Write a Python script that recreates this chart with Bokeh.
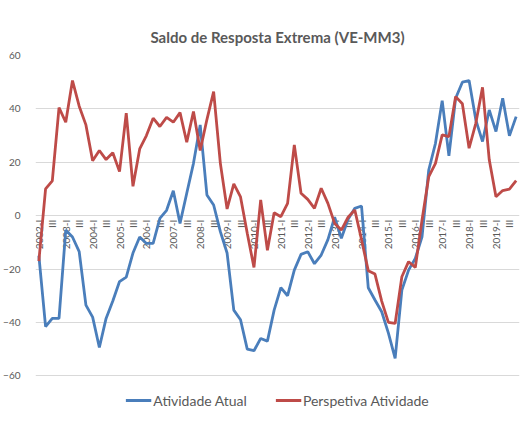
import math
from bokeh.plotting import figure
from bokeh.models import SingleIntervalTicker, Legend, LegendItem, Range1d, ColumnDataSource
from bokeh.core.properties import value
from bokeh.embed import file_html
from bokeh.resources import INLINE

# ---- data (quarterly, 2002-I .. 2019-IV) ----
atividade_atual = [
    -15, -41.6, -38.5, -38.5, -5.4, -8, -13.5, -33.5, -38, -49.4, -38.5, -32,
    -24.7, -23, -14, -8, -10.4, -10.4, -1, 2, 9.3, -2.9, 8.4, 19.6,
    34, 7.75, 4, -6, -14, -35.4, -39, -50, -50.6, -46, -47, -35.4,
    -27, -30, -20.4, -14.5, -13.5, -18, -14.75, -9, -0.6, -8.5, -1.4, 2.75,
    3.6, -27, -31.6, -36, -44, -53.5, -27.9, -20.4, -16, -7.9, 17.1, 27.1,
    43.1, 22.4, 44, 50, 50.6, 35.9, 27.75, 39.6, 31.5, 44, 29.9, 37.1,
]
perspetiva_atividade = [
    -17, 10, 13, 40.5, 35, 50.6, 41, 34, 20.6, 24.4, 21, 23.6,
    16.5, 38.4, 11, 25, 30, 36.5, 33.4, 36.8, 35, 38.6, 27.5, 39,
    24.4, 36, 46.5, 19.6, 2.5, 11.9, 7, -6.6, -19.4, 5.9, -13, 1.1,
    -0.4, 4.6, 26.5, 8.4, 6.1, 2.75, 10.25, 4.6, -2.9, -5.4, -0.6, 2.1,
    -9, -20.6, -21.9, -32, -40, -40.4, -22.9, -17.25, -19.4, -1.6, 14.6, 19.6,
    30.25, 29.6, 44.6, 41.9, 25.25, 34.6, 48.1, 20.9, 7.1, 9.4, 9.9, 13.1,
]
years = list(range(2002, 2020))
tick_labels = []
for y in years:
    tick_labels += [f"{y}-I", "III"]
y_min, y_max, y_step = -60, 60, 20

n = len(atividade_atual)
idx = list(range(n))
tick_pos = list(range(0, n, 2))

BLUE = "#4a7ebb"
RED = "#be4b48"
GRAY = "#595959"
GRID = "#d9d9d9"
FONT = "Lato"
LEGEND_ROOM = 13  # extra value-space under the lowest gridline for the legend

p = figure(width=524, height=422, output_backend="svg", toolbar_location=None,
           x_range=Range1d(-0.5, n - 0.5),
           y_range=Range1d(y_min - LEGEND_ROOM, y_max),
           min_border_left=31, min_border_right=5, min_border_top=55,
           min_border_bottom=12)
p.outline_line_color = None

p.title.text = "Saldo de Resposta Extrema (VE-MM3)"
p.title.align = "center"
p.title.text_font = FONT
p.title.text_font_size = "15px"
p.title.text_font_style = "bold"
p.title.text_color = GRAY
p.title.standoff = 19

# category labels along the zero line (drawn beneath the series)
lab_src = ColumnDataSource(dict(x=tick_pos, y=[0] * len(tick_pos), t=tick_labels))
p.text("x", "y", text="t", source=lab_src, angle=math.pi / 2,
       text_align="right", text_baseline="middle", y_offset=4,
       text_font=value(FONT), text_font_size="10px", text_color=GRAY)

src = ColumnDataSource(dict(x=idx, a=atividade_atual, b=perspetiva_atividade))
r1 = p.line("x", "a", source=src, line_color=BLUE, line_width=2.8)
r2 = p.line("x", "b", source=src, line_color=RED, line_width=2.8)

# y axis
p.yaxis.ticker = SingleIntervalTicker(interval=y_step, num_minor_ticks=0)
p.yaxis.axis_line_color = None
p.yaxis.major_tick_line_color = None
p.yaxis.minor_tick_line_color = None
p.yaxis.major_label_text_font = FONT
p.yaxis.major_label_text_font_size = "10px"
p.yaxis.major_label_text_color = GRAY
p.yaxis.major_label_standoff = 9
p.ygrid.grid_line_color = GRID
p.ygrid.grid_line_width = 1
p.xgrid.grid_line_color = None

# bottom axis kept in place but blank (labels are drawn at y = 0)
p.xaxis.ticker = SingleIntervalTicker(interval=2, num_minor_ticks=0)
p.xaxis.axis_line_color = None
p.xaxis.major_tick_line_color = None
p.xaxis.minor_tick_line_color = None
p.xaxis.major_tick_out = 0
p.xaxis.major_label_standoff = 0
p.xaxis.major_label_text_font_size = "6px"
p.xaxis.major_label_text_color = None

legend = Legend(items=[LegendItem(label="Atividade Atual", renderers=[r1]),
                       LegendItem(label="Perspetiva Atividade", renderers=[r2])],
                orientation="horizontal", location="bottom_center")
legend.label_text_font = FONT
legend.label_text_font_size = "14px"
legend.label_text_color = GRAY
legend.border_line_color = None
legend.background_fill_alpha = 0
legend.glyph_width = 26
legend.label_standoff = 2
legend.spacing = 28
legend.padding = 2
legend.margin = 0
p.add_layout(legend, "center")

open("out.html", "w").write(file_html(p, INLINE))
